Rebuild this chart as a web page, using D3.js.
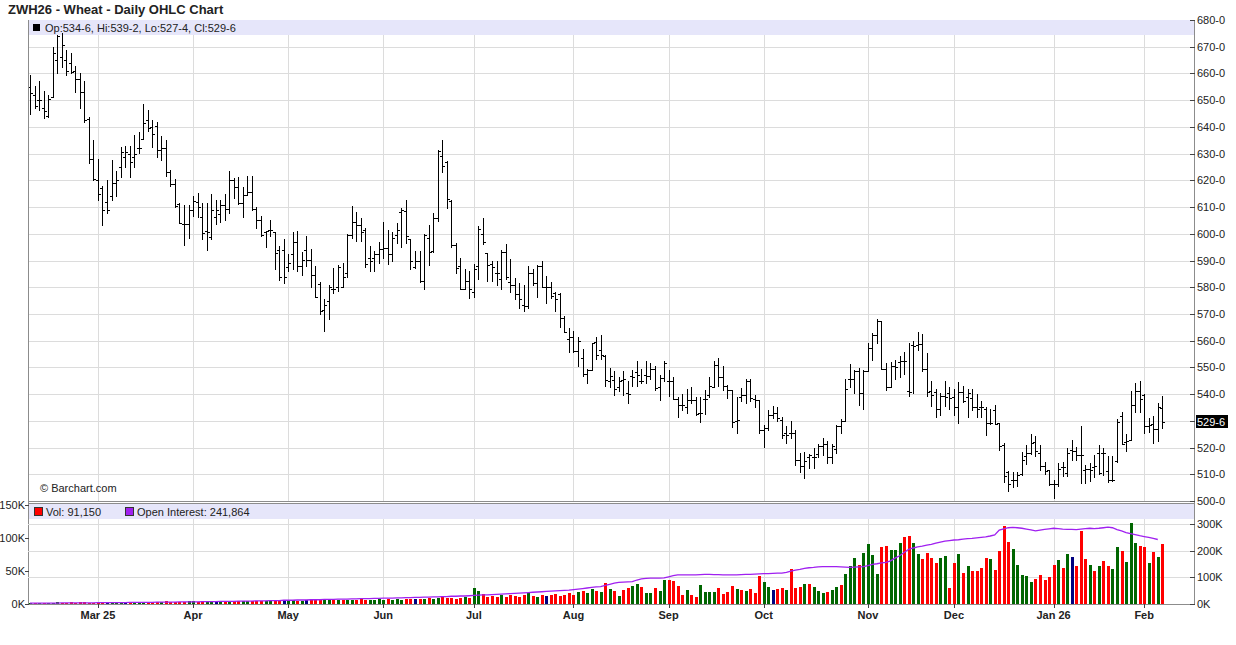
<!DOCTYPE html>
<html><head><meta charset="utf-8">
<script src="https://cdn.jsdelivr.net/npm/d3@7"></script>
<style>body{margin:0;background:#fff;}svg{display:block;font-family:"Liberation Sans",Arial,sans-serif;}</style>
</head><body><svg id="c" width="1236" height="645"></svg>
<script>
// ---- data (daily bars, index 0 = 7 Feb 2025 ... 250 = 6 Feb 2026) ----
const open=[655,652,650,647,644,651,665,666,665,664,661,657.75,653,643,628,620.25,617,612,614,619,625,628.75,630,628.75,632,635.6,642.5,640,640.25,631.25,632,623.1,618.5,611.25,603.5,603.5,608.75,611.9,606.25,601,598.75,606.25,607.5,610.6,609.4,620,617.5,611.5,614.4,615.6,609.4,605,600.6,601.5,600.6,593.75,593.75,587.5,592.5,596.9,588.1,593.75,590.25,584.4,581.25,571.5,575,579.25,580.25,580,585.5,599.4,604.5,603.1,601.6,590.9,590.9,592.6,594.4,594.8,592.6,599.4,608.1,608.5,598.1,587.75,589.75,582.5,598.5,593.5,606,629,626.75,612.25,595.9,588.1,579.5,582.25,578.1,588.1,599.75,592.75,588.75,585.5,583,593.1,582,581,577.6,573.25,573,585.5,581.75,587.9,579.9,579.9,577.9,577.6,568.6,560.8,561.5,556.2,553.7,547.5,549,559.6,556.6,554.4,545,545.4,542.6,545.4,540.6,546.6,548.1,544.75,547.25,546.9,549.4,542.5,546,544.75,544.75,538.1,536,535,537.9,537.9,532.9,538.1,539.75,542.6,551,546.4,542.9,541.4,530.1,539.1,539.75,544.75,538.1,537.9,526.6,527.25,532.25,532.9,530.4,525.6,525.6,525.4,515.4,513.1,516.4,516.4,517.6,520.4,521.4,516.6,519.4,527.9,530.1,545.6,545.6,548.5,540.4,548.5,557.25,562.25,567.25,549.4,542.6,550.6,552.1,552.4,541.25,558.4,558.4,558.75,549.25,541.25,540.9,534.6,539.25,540.5,538.75,535,540.9,539,538.4,535.25,535,534.25,529.25,534,529.25,520.9,510.9,507.75,507.75,510.25,516.75,518,522.1,518,513,511.5,506.5,506.5,512.75,510.5,519,518.75,517.1,511.5,512.1,512.75,518,518,511.1,507.75,515,531.75,522.1,523,535.9,541.25,539.6,528,529,527.1,534.75];
const high=[659.4,655.4,657,653.5,652,669.75,674.4,675,668.75,667.5,662.9,660,657,643.75,635,628.1,617.75,620,627.5,623.4,632.5,632.75,632.75,637,638,648.4,646.5,642.75,641.9,636.5,635.25,623.75,620.6,611.5,610.6,610.6,614,615.25,611.5,611.5,615,612.75,612.75,615,623.5,621,621.25,617.5,621.5,621.5,610,606.5,601,605.25,600.6,595.6,598.1,592.5,600.6,601,593.1,599,594.4,588.1,582.1,575.5,581,587.1,588.4,589,600,610.4,608.25,606,602,595.4,593.6,596.9,604.5,601.4,600.75,604.1,609.75,612.5,598.1,593.5,593.5,600,603.1,607.9,631.5,635.25,627.1,612.5,596.7,590.9,586.7,586.25,588.75,602.9,606,592.75,589.75,590,593.9,596.25,590.6,583.6,581.75,580.9,588.1,587,588.5,590,584.25,582,578.1,577.9,569.25,564.9,563.6,561.5,557,549.4,559.3,561.2,562.1,554.6,549.6,548.5,546.4,548.5,544.75,549.1,552.5,549.4,552.5,551.6,550.4,547.25,552.5,549.1,546.4,538.9,540.1,541.9,542.6,539.1,538.9,541.4,546.4,552.25,553.5,550.6,543.5,541.4,539.1,542.25,545.6,545.6,539.75,537.9,528.5,534.1,535.6,535.1,531.6,527.9,529.9,526.6,517.9,518.5,517.6,519.75,521.4,523.5,522.6,521.4,528.5,530.6,545.6,551.4,549.1,549.75,549.1,559.1,562.9,568.1,567.25,551.6,551.9,552.6,554.4,555.6,559,560,563.4,562.5,555.5,544.9,541.75,540.5,544.9,542.75,541.75,544.6,543,541.75,541.75,540,537.5,535,534.6,535.9,529.25,521.75,511.25,510.9,510.9,518.4,520.9,525,524.25,520.9,514.6,511.75,508,514.25,514.6,520,522.75,520.25,528,513.5,514.25,517.1,520.9,520,516.75,516.75,530.5,533.4,525.25,541.25,544.25,544.9,540,530.9,531.75,536.75,539.25];
const low=[644.8,646.9,646.5,643.4,643.75,651,660,662.5,659.6,660,653,647,641.9,626.5,620,612.75,603.4,607.75,612.75,614,621.25,625,621.25,625,630.25,635.6,638.5,632.5,628.75,627.75,621.5,618,610,604,595.9,598.5,606.5,606.25,598.1,593.75,598.1,603.5,604.4,605,607.75,613.5,611.25,606.25,614.4,608.75,602.25,599,595,599,586.9,582.75,581.5,586.25,586.9,586,584.4,588.1,580.25,576.25,570,563.6,568,577.75,578.5,579.9,584,598.5,597.25,597.25,587.5,586.25,586,589,591,588.75,589.75,596.4,594.9,596.7,586.7,587.25,582.1,579.5,588.5,593.1,604.75,623,609.75,594.9,585.5,579.5,579.25,576.1,576.4,583.25,596,582.25,582.25,581,579.5,583.25,578.1,575.5,572.4,571.1,572.4,580.75,576.4,579.9,574.25,576.1,571.1,565,563.25,555.6,555.75,550.6,546.8,544.1,549,553.3,553.1,542.9,542.5,539.75,541,539.75,536.6,543.1,543.1,544.1,544.1,545.6,541.6,537.9,544.75,539.4,538.1,531.4,534.1,532.9,536.6,532.25,529.4,532.6,539.1,542.6,543.1,541.4,538.5,527.6,525.6,537.25,536.6,537.5,535.1,525.6,520.1,526.6,531,529.9,523.5,521.6,523.5,513.5,511,508.5,512.25,512.25,516.6,517.25,514.4,514.4,518.1,525.4,530.1,542.6,540.4,536,534.4,548.5,552.9,559.1,549.4,541.4,542.6,545.6,546.4,547.6,539.25,540.5,556.5,548.75,539.25,535.5,531.5,532.1,535.5,534.6,532.1,529.25,537.1,531.25,534,531.5,531.25,524.6,528.75,528.75,519.25,507.1,503.75,505.4,505.5,509.6,513.75,517.75,516.75,511.75,510,505.9,501.1,505.5,509.25,509.25,515.5,515.5,506.75,506.75,507.5,509,510,509.6,507.1,507.5,514.6,521.25,518.75,523,533.4,533.4,525.5,525.9,521.75,522.5,527.5];
const close=[652.8,648,650,646,650.6,667.5,674,670.6,661,660.6,657.75,653,642.5,628,620.6,615,609,609,619,620,630.6,630.6,627,630,632,641.5,639.4,637.5,631.25,632,623.1,618.5,610.25,604,603.5,608.75,612.25,610,600.25,600.6,608.75,608.75,610.6,609.4,620.25,617.5,611.5,614.4,615.6,609.4,605,599.4,601,601.5,592.75,584,584,589,596.9,588.1,590.25,590.25,584.4,576.5,571,573.4,580.25,579.25,587.5,584,599.4,604.5,603.1,600.75,588.75,589.75,592.6,594.4,594.8,592.6,598.5,601.4,608.75,599,589.75,589.75,582.5,599.4,593.1,606,630.9,625.25,612.9,595.75,587.25,579.5,582.25,579.5,587,601.9,596.9,588.5,587.75,585.5,593.1,584,581,577.4,575.75,573,585.5,581.75,587.9,579.9,579.9,576.75,575.75,568.6,563.25,561.25,556.2,560,547.5,549,559,554.6,554.6,545.4,546.9,541.9,544.9,545.6,540.1,546.4,547.25,544.75,546.9,549.4,542.25,546,551.6,544.75,538.1,536,536,537.9,537.9,532.6,532.9,538.1,542.9,551,546.4,542.9,541.4,529.4,530.4,539.75,544.75,538.5,537.9,526.6,527.25,532.25,532.9,531,524.75,524.75,525.4,515.4,513.1,515.1,517.25,516.4,520.4,521.4,516.6,520.4,528.1,530.1,541.9,545.6,548.5,540.4,548.5,557.25,562.25,567.25,549.4,542.6,550.6,550.1,552.4,552.4,540.9,558,558.75,549.25,540.9,539.6,534.6,539.25,538.75,538.4,535,540.9,537.5,540.25,535.25,534.6,535,529.25,529.25,529,520.5,509.25,506.25,507.75,509.6,515.5,518,521.75,518.75,513,511.25,506.5,506.25,512.1,512.75,518,518.6,517.1,517.1,512.1,511.75,513,510.5,518,507.75,507.75,529.5,521.5,522.5,535.9,541.25,538,528,528.4,527.1,535,529.75];
// volume in thousands of contracts
const volume=[1.5,2,1.8,2.2,1.6,2,2.4,1.8,2.1,2.5,1.9,2.3,2.6,2,2.2,2.8,3,3.4,2.6,3.2,3.6,2.9,3.1,2.7,3.3,3,3.5,2.8,3.2,3.6,3.9,3.1,3.4,2.9,3.6,4.2,4,3.6,4.8,4.2,3.9,4.4,5.2,4.6,4.1,3.8,4.5,4.9,4.3,4,4.6,5,4.4,4.1,4.8,5.3,4.7,5.4,6.1,5.2,4.8,5.6,6.3,7,5.9,5.4,6.6,6,5.5,6.2,6.8,5.8,6.4,7.1,6.5,5.9,6.3,6.9,6.5,7.2,6.8,7.6,6.2,7,8.1,7.4,6.9,7.8,8.4,7.5,9,10.5,8.8,9.6,8.2,9.1,10,9.4,24,20,15,11,12,10,13,11,14,12,10,13,16,12,11,14,12,13,15,12,14,16,14,18,20,17,22,19,18,32,23,20,12,21,24,27,30,26,17,17,24,20,36,36,35,27,14,21,14,11,29,18,18,18,24,15,18,27,23,21,20,23,17,42,33,26,21,23,24,21,53,24,26,30,30,26,20,17,18,21,26,29,45,58,70,59,77,91,74,45,86,88,82,82,92,102,103,92,76,68,77,70,62,70,73,24,62,76,47,58,50,50,55,70,68,52,80,118,94,83,59,44,42,33,38,44,36,41,59,67,55,76,71,58,111,68,59,50,58,65,58,53,86,80,64,123,92,88,86,62,79,71,91.15];
// volume direction from index 126 on (g up, r down, n unchanged)
const volDirFrom=126;
const volDir="grgrgrrggrggrggrrrrgrrggggrrrrgrgrrrggnrrgrrrgrgggrggrgggrggggrrgggrrggrrrrggrrgrgrrrrgrrrrgggggrrrrrgrgnrrrgrgrrggrgggrrgrgr";
// open interest in thousands (reported one day later)
const openInterest=[3,3,3,3,3,3,3,4,4,4,4,4,4,4,4,5,5,5,5,5,5,5,6,6,6,6,6,6,7,7,7,7,7,8,8,8,8,8,9,9,9,9,10,10,10,10,11,11,11,11,12,12,12,13,13,13,14,14,14,15,15,15,16,16,16,17,17,17,18,18,18,19,19,20,20,20,21,21,22,22,22,23,23,24,24,25,25,26,26,27,27,28,28,29,29,30,30,31,32,33,34,34,35,36,37,38,39,40,41,42,43,44,45,46,47,48,49,50,51,52,54,56,58,60,62,64,65,70,74,78,81,82,83,84,90,94,96,97,97,97,98,102,106,109,109,109,109,109,110,111,111,110,110,109,109,109,109,110,111,111,112,113,114,114,115,116,116,119,123,127,130,134,136,137,139,140,140,140,140,139,138,137,138,139,140,144,149,151,154,156,162,172,181,193,205,210,214,217,221,224,228,232,236,238,240,241,243,245,246,248,250,252,255,259,277,282,286,287,286,284,281,278,274,277,280,282,284,283,281,280,280,279,281,283,284,283,284,286,288,286,279,274,268,264,260,256,253,250,246,241.864];
const monthIdx=[15,36,57,78,98,120,141,162,185,204,226,246];
const monthLabels=["Mar 25","Apr","May","Jun","Jul","Aug","Sep","Oct","Nov","Dec","Jan 26","Feb"];
const priceTicks=[500,510,520,530,540,550,560,570,580,590,600,610,620,630,640,650,660,670,680];
const volTicks=[0,50,100,150];
const oiTicks=[0,100,200,300];
const title="ZWH26 - Wheat - Daily OHLC Chart";
const last=open.length-1;

// ---- drawing ----
const svg=d3.select("#c");
const L=28,R=1194;
const x=d3.scaleLinear().domain([-0.44,257]).range([L,R]);
const yP=d3.scaleLinear().domain([500,680]).range([501,20]);
const yV=d3.scaleLinear().domain([0,150]).range([604,505]);
const yO=d3.scaleLinear().domain([0,300]).range([604,524]);
const fmtP=v=>{const f=Math.floor(v+1e-9);return f+"-"+Math.round((v-f)*8);};
const fmtK=v=>v+"K";
const grid="#dcdcdc", axisC="#8c8c8c", txt="#222";
const px=v=>Math.round(v)+0.5;

svg.append("text").attr("x",8).attr("y",13.5).attr("font-size",13).attr("font-weight","bold").attr("fill",txt).text(title);

// price panel grid
const gP=svg.append("g").attr("shape-rendering","crispEdges");
gP.selectAll("line.h").data(priceTicks).join("line").attr("x1",L).attr("x2",R)
  .attr("y1",d=>px(yP(d))).attr("y2",d=>px(yP(d))).attr("stroke",grid);
gP.selectAll("line.v").data(monthIdx).join("line").attr("x1",d=>px(x(d))).attr("x2",d=>px(x(d)))
  .attr("y1",20).attr("y2",501).attr("stroke",grid);
// legend band
svg.append("rect").attr("x",L+1).attr("y",20).attr("width",R-L-1).attr("height",15).attr("fill","#e6e6fa");
svg.append("rect").attr("x",33).attr("y",24).attr("width",7).attr("height",7).attr("fill","#000");
svg.append("text").attr("x",45).attr("y",31.5).attr("font-size",11).attr("fill",txt)
  .text(`Op:${fmtP(open[last])}, Hi:${fmtP(high[last])}, Lo:${fmtP(low[last])}, Cl:${fmtP(close[last])}`);

// OHLC bars
const gB=svg.append("g").attr("stroke","#000").attr("shape-rendering","crispEdges");
const idx=d3.range(open.length);
gB.selectAll("line.hl").data(idx).join("line").attr("x1",i=>px(x(i))).attr("x2",i=>px(x(i)))
  .attr("y1",i=>Math.round(yP(high[i]))).attr("y2",i=>Math.round(yP(low[i]))+1);
gB.selectAll("line.o").data(idx).join("line").attr("x1",i=>Math.round(x(i))-2).attr("x2",i=>Math.round(x(i)))
  .attr("y1",i=>px(yP(open[i]))).attr("y2",i=>px(yP(open[i])));
gB.selectAll("line.c").data(idx).join("line").attr("x1",i=>Math.round(x(i))+1).attr("x2",i=>Math.round(x(i))+3)
  .attr("y1",i=>px(yP(close[i]))).attr("y2",i=>px(yP(close[i])));

svg.append("text").attr("x",40).attr("y",492).attr("font-size",11).attr("fill",txt).text("© Barchart.com");

// frames
const gF=svg.append("g").attr("shape-rendering","crispEdges").attr("stroke",axisC).attr("fill","none");
gF.append("line").attr("x1",L+0.5).attr("x2",L+0.5).attr("y1",20).attr("y2",604);
gF.append("line").attr("x1",R+0.5).attr("x2",R+0.5).attr("y1",20).attr("y2",604);
gF.append("line").attr("x1",L).attr("x2",R).attr("y1",501.5).attr("y2",501.5);
gF.append("line").attr("x1",L).attr("x2",R).attr("y1",503.5).attr("y2",503.5);
gF.append("line").attr("x1",L).attr("x2",R+1).attr("y1",604.5).attr("y2",604.5);

// right price axis
const gA=svg.append("g");
gA.selectAll("line").data(priceTicks).join("line").attr("shape-rendering","crispEdges")
  .attr("x1",R-4).attr("x2",R+1).attr("y1",d=>px(yP(d))).attr("y2",d=>px(yP(d))).attr("stroke","#444");
gA.selectAll("text").data(priceTicks).join("text").attr("x",R+3).attr("y",d=>yP(d)+4)
  .attr("font-size",11).attr("fill",txt).text(fmtP);
// current price marker
const cy=yP(close[last]);
svg.append("rect").attr("x",R+2).attr("y",cy-6.5).attr("width",32).attr("height",13).attr("fill","#000");
svg.append("text").attr("x",R+3).attr("y",cy+4).attr("font-size",11).attr("fill","#fff").text(fmtP(close[last]));

// volume panel
const gV=svg.append("g").attr("shape-rendering","crispEdges");
gV.selectAll("line.h").data(oiTicks.filter(d=>d>0)).join("line").attr("x1",L).attr("x2",R)
  .attr("y1",d=>px(yO(d))).attr("y2",d=>px(yO(d))).attr("stroke",grid);
gV.selectAll("line.v").data(monthIdx).join("line").attr("x1",d=>px(x(d))).attr("x2",d=>px(x(d)))
  .attr("y1",504).attr("y2",604).attr("stroke",grid);
svg.append("rect").attr("x",L+1).attr("y",504).attr("width",R-L-1).attr("height",15).attr("fill","#e6e6fa");
const dirOf=i=>{
  if(i>=volDirFrom) return volDir[i-volDirFrom];
  if(i===0) return "g";
  return close[i]>close[i-1]?"g":(close[i]<close[i-1]?"r":"n");
};
const volCol={g:"#006600",r:"#ff0000",n:"#000080"};
gV.selectAll("rect.vol").data(idx).join("rect").attr("x",i=>Math.round(x(i))-1).attr("width",3)
  .attr("y",i=>Math.round(yV(volume[i]))).attr("height",i=>604-Math.round(yV(volume[i])))
  .attr("fill",i=>volCol[dirOf(i)]);
// open interest line
const line=d3.line().x((d,i)=>x(i)).y(d=>yO(d));
svg.append("path").datum(openInterest).attr("d",line).attr("fill","none").attr("stroke","#a020f0").attr("stroke-width",1.3);
// vol legend
svg.append("rect").attr("x",34.5).attr("y",507.5).attr("width",8).attr("height",8).attr("fill","#ff0000").attr("stroke","#333");
svg.append("text").attr("x",46).attr("y",516).attr("font-size",11).attr("fill",txt).text("Vol: "+d3.format(",")(Math.round(volume[last]*1000)));
svg.append("rect").attr("x",125.5).attr("y",507.5).attr("width",8).attr("height",8).attr("fill","#a020f0").attr("stroke","#333");
svg.append("text").attr("x",137).attr("y",516).attr("font-size",11).attr("fill",txt).text("Open Interest: "+d3.format(",")(Math.round(openInterest[openInterest.length-1]*1000)));

// left vol axis
const gLV=svg.append("g");
gLV.selectAll("line").data(volTicks).join("line").attr("shape-rendering","crispEdges")
  .attr("x1",L-3).attr("x2",L+1).attr("y1",d=>px(yV(d))).attr("y2",d=>px(yV(d))).attr("stroke","#444");
gLV.selectAll("text").data(volTicks).join("text").attr("x",L-3).attr("y",d=>yV(d)+4).attr("text-anchor","end")
  .attr("font-size",11).attr("fill",txt).text(fmtK);
// right OI axis
const gRO=svg.append("g");
gRO.selectAll("line").data(oiTicks).join("line").attr("shape-rendering","crispEdges")
  .attr("x1",R-4).attr("x2",R+1).attr("y1",d=>px(yO(d))).attr("y2",d=>px(yO(d))).attr("stroke","#444");
gRO.selectAll("text").data(oiTicks).join("text").attr("x",R+3).attr("y",d=>yO(d)+4)
  .attr("font-size",11).attr("fill",txt).text(fmtK);
// bottom date axis
const gX=svg.append("g");
gX.selectAll("line").data(monthIdx).join("line").attr("shape-rendering","crispEdges")
  .attr("x1",d=>px(x(d))).attr("x2",d=>px(x(d))).attr("y1",604).attr("y2",608).attr("stroke","#444");
gX.selectAll("text").data(monthIdx).join("text").attr("x",d=>x(d)).attr("y",619).attr("text-anchor","middle")
  .attr("font-size",11).attr("font-weight","bold").attr("fill",txt).text((d,k)=>monthLabels[k]);
</script></body></html>
